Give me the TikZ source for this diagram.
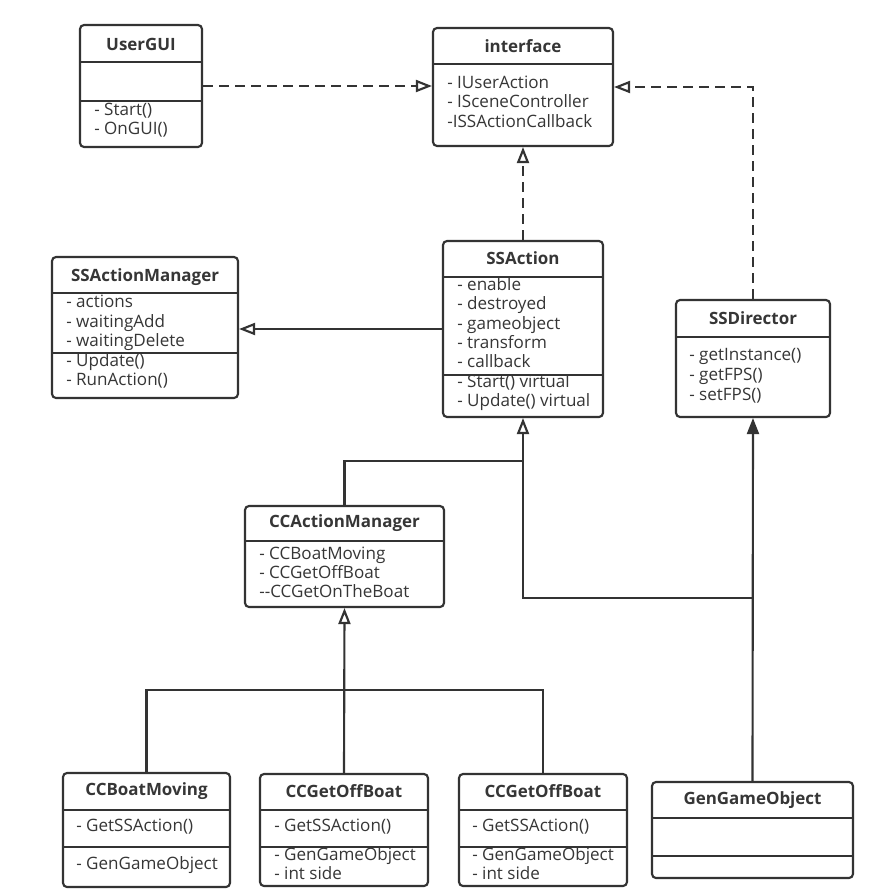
\documentclass[tikz,border=0pt]{standalone}
\usepackage{fontspec}
\setmainfont{Open Sans}
\usetikzlibrary{arrows.meta,fit}
\definecolor{ink}{HTML}{333333}
\definecolor{txt}{HTML}{363636}
\tikzset{
 umlbox/.style={draw=ink, line width=1.6pt, rounded corners=3pt, inner sep=0pt, fill=white},
 sepline/.style={draw=ink, line width=1.6pt},
 ttl/.style={font=\bfseries\fontsize{12.7pt}{14pt}\selectfont, text=txt, inner sep=0pt},
 mem/.style={font=\fontsize{12.8pt}{14pt}\selectfont, text=txt, inner sep=0pt, anchor=mid west},
 rel/.style={draw=ink, line width=1.6pt},
 dashrel/.style={rel, dash pattern=on 7.5pt off 4.5pt},
 openhead/.style={-{Triangle[open, length=12pt, width=9pt, line width=1.6pt]}},
 fillhead/.style={-{Triangle[length=12pt, width=9pt]}},
}
\begin{document}
\begin{tikzpicture}[x=0.75pt,y=-0.75pt]
\useasboundingbox (0,0) rectangle (877,894);
\fill[white] (0,0) rectangle (877,894);

% UserGUI
\node[umlbox, fit={(80,25) (202,147)}] (usergui) {};
\draw[sepline] (80,62) -- (202,62);
\draw[sepline] (80,101) -- (202,101);
\node[ttl] (usergui-t) at (141,44) {UserGUI};
\node[mem] (ug1) at (94,112) {- Start()};
\node[mem] (ug2) at (94,131) {- OnGUI()};

% interface
\node[umlbox, fit={(433,28) (613,146)}] (iface) {};
\draw[sepline] (433,64) -- (613,64);
\node[ttl] (iface-t) at (523,46) {interface};
\node[mem] (if1) at (447,85) {- IUserAction};
\node[mem] (if2) at (447,104) {- ISceneController};
\node[mem] (if3) at (447,124) {-ISSActionCallback};

% SSActionManager
\node[umlbox, fit={(52,257) (238,398)}] (ssam) {};
\draw[sepline] (52,293) -- (238,293);
\draw[sepline] (52,353) -- (238,353);
\node[ttl] (ssam-t) at (145,277) {SSActionManager};
\node[mem] (sm1) at (66,304) {- actions};
\node[mem] (sm2) at (66,324) {- waitingAdd};
\node[mem] (sm3) at (66,343) {- waitingDelete};
\node[mem] (sm4) at (66,363) {- Update()};
\node[mem] (sm5) at (66,382) {- RunAction()};

% SSAction
\node[umlbox, fit={(443,241) (603,417)}] (ssa) {};
\draw[sepline] (443,277) -- (603,277);
\draw[sepline] (443,375) -- (603,375);
\node[ttl] (ssa-t) at (523,258) {SSAction};
\node[mem] (sa1) at (457,287) {- enable};
\node[mem] (sa2) at (457,306) {- destroyed};
\node[mem] (sa3) at (457,326) {- gameobject};
\node[mem] (sa4) at (457,345) {- transform};
\node[mem] (sa5) at (457,364) {- callback};
\node[mem] (sa6) at (457,384) {- Start() virtual};
\node[mem] (sa7) at (457,403) {- Update() virtual};

% SSDirector
\node[umlbox, fit={(676,300) (830,417)}] (ssd) {};
\draw[sepline] (676,337) -- (830,337);
\node[ttl] (ssd-t) at (753,318) {SSDirector};
\node[mem] (sd1) at (689,357) {- getInstance()};
\node[mem] (sd2) at (689,377) {- getFPS()};
\node[mem] (sd3) at (689,397) {- setFPS()};

% CCActionManager
\node[umlbox, fit={(245,506) (444,607)}] (ccam) {};
\draw[sepline] (245,541) -- (444,541);
\node[ttl] (ccam-t) at (344.5,523) {CCActionManager};
\node[mem] (cm1) at (259,556) {- CCBoatMoving};
\node[mem] (cm2) at (259,575) {- CCGetOffBoat};
\node[mem] (cm3) at (259,594) {-{}-CCGetOnTheBoat};

% CCBoatMoving
\node[umlbox, fit={(63,773) (230,887)}] (ccbm) {};
\draw[sepline] (63,810) -- (230,810);
\draw[sepline] (63,847) -- (230,847);
\node[ttl] (ccbm-t) at (146.5,791) {CCBoatMoving};
\node[mem] (bm1) at (76,828) {- GetSSAction()};
\node[mem] (bm2) at (76,866) {- GenGameObject};

% CCGetOffBoat (1)
\node[umlbox, fit={(260,774) (428,886)}] (ccgo) {};
\draw[sepline] (260,810) -- (428,810);
\draw[sepline] (260,847) -- (428,847);
\node[ttl] (ccgo-t) at (344,791) {CCGetOffBoat};
\node[mem] (go1) at (274,828) {- GetSSAction()};
\node[mem] (go2) at (274,857) {- GenGameObject};
\node[mem] (go3) at (274,876) {- int side};

% CCGetOffBoat (2)
\node[umlbox, fit={(459,774) (627,886)}] (ccgt) {};
\draw[sepline] (459,810) -- (627,810);
\draw[sepline] (459,847) -- (627,847);
\node[ttl] (ccgt-t) at (543,791) {CCGetOffBoat};
\node[mem] (gt1) at (472,828) {- GetSSAction()};
\node[mem] (gt2) at (472,857) {- GenGameObject};
\node[mem] (gt3) at (472,876) {- int side};

% GenGameObject
\node[umlbox, fit={(652,782) (853,878)}] (ggo) {};
\draw[sepline] (652,818) -- (853,818);
\draw[sepline] (652,856) -- (853,856);
\node[ttl] (ggo-t) at (752.5,800) {GenGameObject};

% connectors
\coordinate (j1) at (752.5,598);
\coordinate (j2) at (523,461);
\coordinate (bus) at (344,690);

\draw[dashrel, openhead] (usergui.east) -- (usergui.east -| iface.west);
\draw[dashrel, openhead] (ssa.north) -- (iface.south);
\draw[dashrel, openhead] (ssd.north) |- (iface.east);
\draw[rel, openhead] (ssa.west) -- (ssa.west -| ssam.east);
\draw[rel, fillhead] (ggo.north) -- (ssd.south);
\draw[rel, openhead] (j1) -| (ssa.south);
\draw[rel] (ccam.north) |- (j2);
\draw[rel, openhead] (ccgo.north) -- (ccam.south);
\draw[rel] (ccbm.north) |- (bus);
\draw[rel] (ccgt.north) |- (bus);
\end{tikzpicture}
\end{document}
